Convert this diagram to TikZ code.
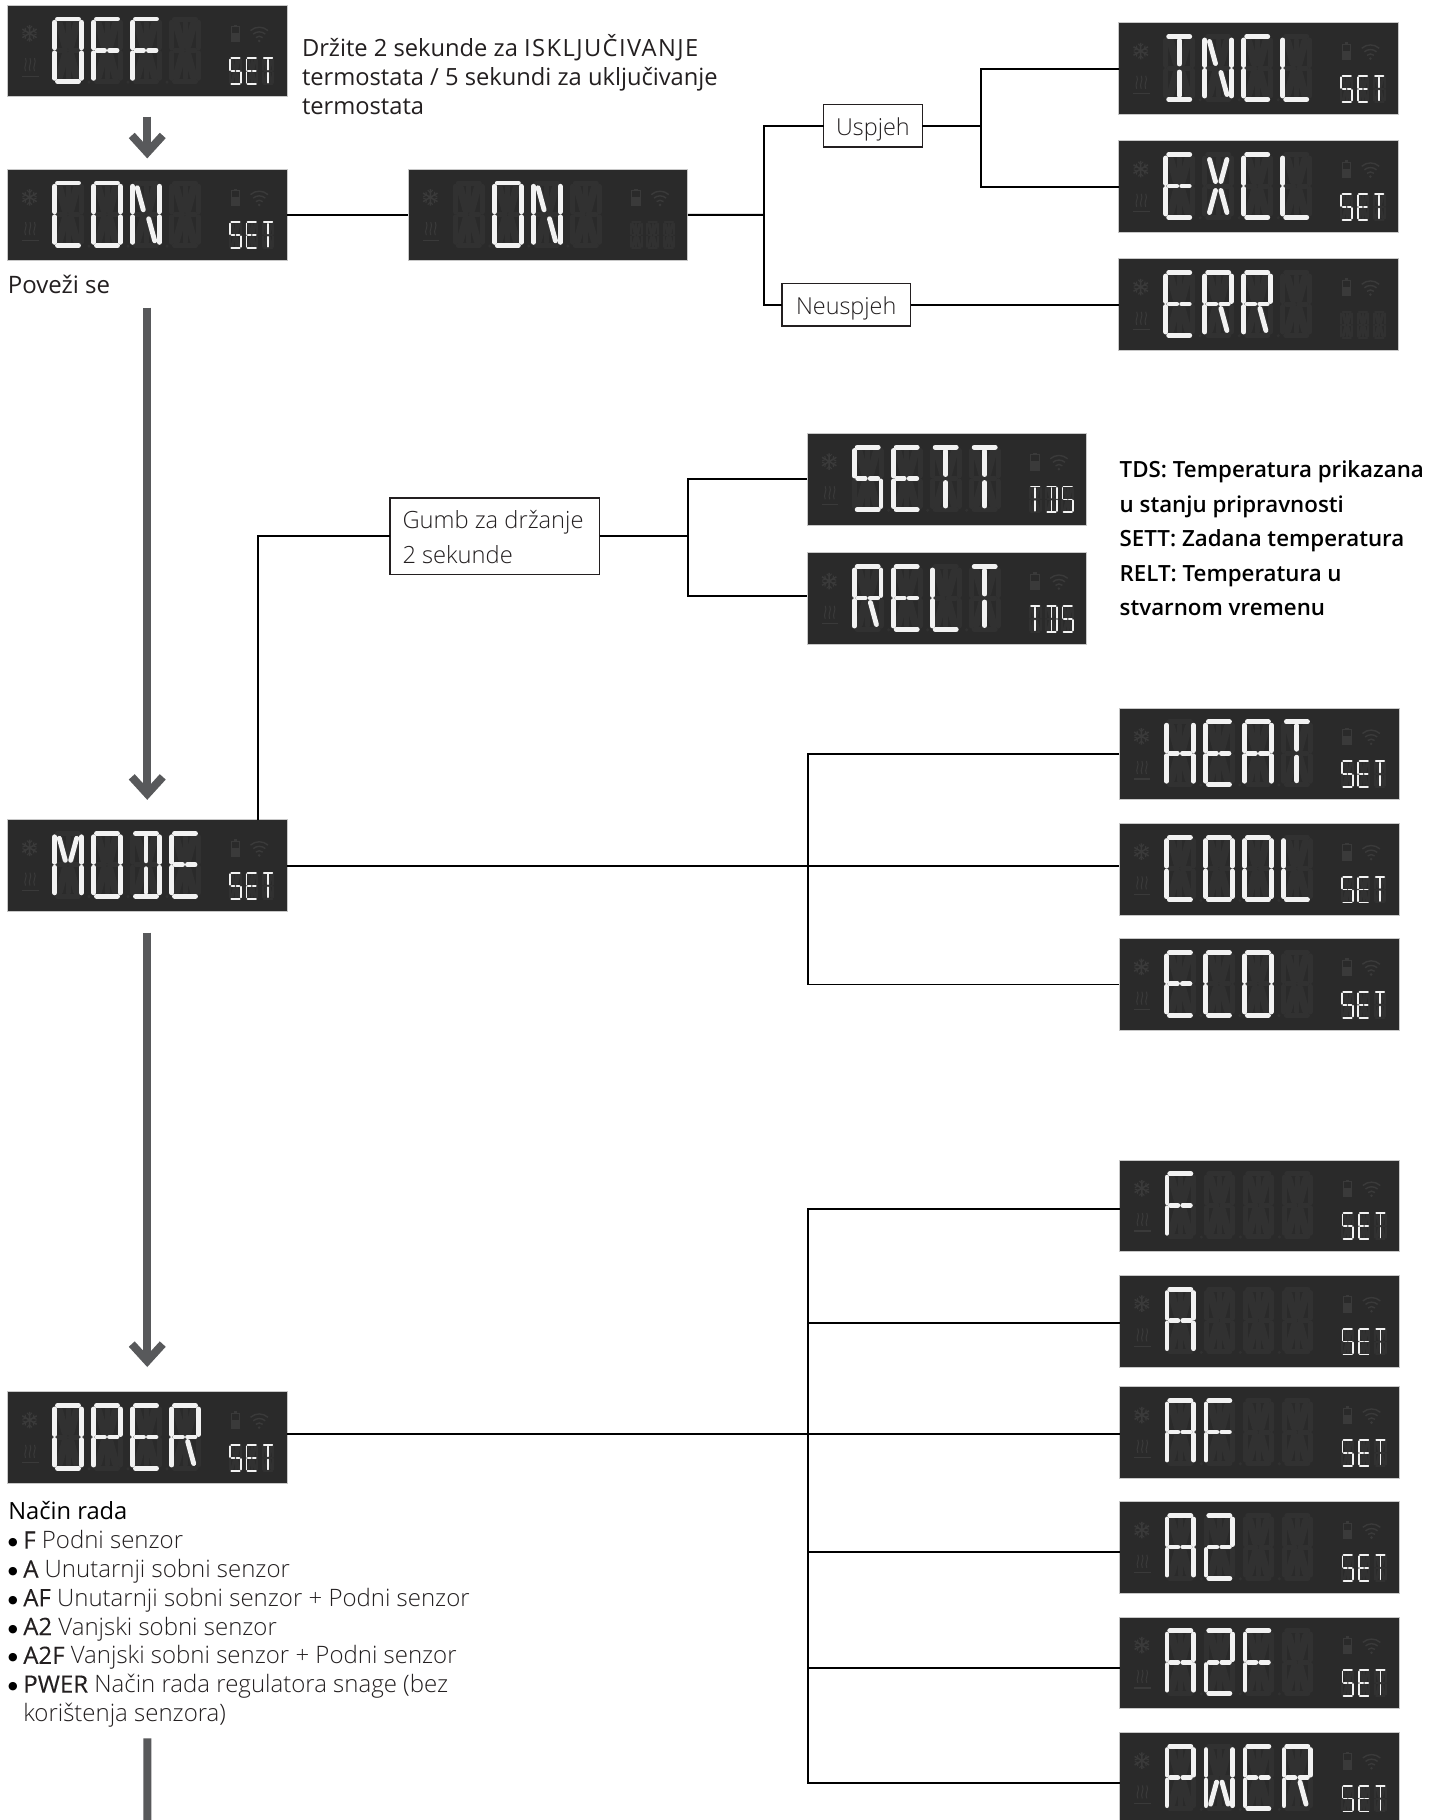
\documentclass[tikz,border=0pt]{standalone}
\usepackage{fontspec}
\usetikzlibrary{arrows.meta}
\setmainfont{Open Sans}
\newfontfamily\ltl{Open Sans Light}
\newfontfamily\ltm{Open Sans Semibold}
\newfontfamily\ltn{Open Sans}[FakeBold=0.2]
\newfontfamily\djv{DejaVu Sans}
\definecolor{lcdbg}{HTML}{2A2A2A}
\definecolor{lcddim}{HTML}{313131}
\definecolor{lcdicon}{HTML}{3A3A3A}
\definecolor{lcdlit}{HTML}{F2F2F2}
\definecolor{lcdedge}{HTML}{C8C8C8}
\definecolor{arrowgrey}{HTML}{58595B}
\definecolor{ink}{HTML}{231F20}
\tikzset{
 lcdpanel/.style={anchor=north west,minimum width=279.5pt,minimum height=91.6pt,inner sep=0pt,outer sep=0pt,fill=lcdbg,draw=lcdedge,line width=.8pt},
 conn/.style={draw=black,line width=1.9pt},
 bigarrow/.style={draw=arrowgrey,line width=8pt,-{Straight Barb[length=17pt,width=31pt,line width=8pt]}},
 labelbox/.style={draw=ink,line width=1.4pt,fill=white,inner sep=0pt,outer sep=0pt,text=ink,font=\ltl\fontsize{23.4}{34.9}\selectfont},
 txt/.style={anchor=base west,inner sep=0pt,outer sep=0pt,align=left},
}
% segments of one 31 x 67 digit
\newcommand\sga[1]{\draw[#1] (5,2.2)--(26,2.2);}
\newcommand\sgb[1]{\draw[#1] (28.8,5.5)--(28.8,31);}
\newcommand\sgc[1]{\draw[#1] (28.8,36)--(28.8,61.5);}
\newcommand\sgd[1]{\draw[#1] (5,64.8)--(26,64.8);}
\newcommand\sge[1]{\draw[#1] (2.2,36)--(2.2,61.5);}
\newcommand\sgf[1]{\draw[#1] (2.2,5.5)--(2.2,31);}
\newcommand\sgg[1]{\draw[#1] (5.5,33.5)--(13,33.5);}
\newcommand\sgp[1]{\draw[#1] (18,33.5)--(25.5,33.5);}
\newcommand\sgi[1]{\draw[#1] (15.5,6)--(15.5,29.5);}
\newcommand\sgl[1]{\draw[#1] (15.5,37.5)--(15.5,61);}
\newcommand\sgh[1]{\draw[#1] (6.8,7)--(12.8,29);}
\newcommand\sgj[1]{\draw[#1] (24.2,7)--(18.2,29);}
\newcommand\sgm[1]{\draw[#1] (12.8,38)--(6.8,60);}
\newcommand\sgk[1]{\draw[#1] (18.2,38)--(24.2,60);}
\def\glO{a,b,c,d,e,f}\def\glF{a,f,e,g,p}\def\glC{a,f,e,d}\def\glN{f,e,b,c,h,k}
\def\glI{a,d,i,l}\def\glL{f,e,d}\def\glE{a,f,e,d,g,p}\def\glX{h,j,m,k}
\def\glR{a,f,b,g,p,e,k}\def\glS{a,f,g,p,c,d}\def\glT{a,i,l}\def\glD{a,b,c,d,i,l}
\def\glM{f,e,b,c,h,j}\def\glH{f,e,b,c,g,p}\def\glA{a,f,b,g,p,e,c}\def\glP{a,f,b,g,p,e}
\expandafter\def\csname gl2\endcsname{a,b,g,p,e,d}
\def\glW{f,e,b,c,m,k}
\expandafter\def\csname gl\endcsname{}
% x y sx sy lwlit lwdim glyph
\newcommand\lcddigit[7]{%
 \begin{scope}[shift={(#1,#2)},xscale=#3,yscale=#4]
  \foreach \s in {a,b,c,d,e,f,g,p,i,l}{\csname sg\s\endcsname{lcddim,line width=#6pt,line cap=round}}
  \foreach \s in {h,j,k,m}{\csname sg\s\endcsname{lcddim,line width=1.5*#6pt,line cap=round}}
  \edef\tmpgl{\csname gl#7\endcsname}%
  \ifx\tmpgl\empty\else
   \foreach \s in \tmpgl {\csname sg\s\endcsname{lcdlit,line width=#5pt,line cap=round}}
  \fi
 \end{scope}}
\newcommand\lcdicons{%
 % snowflake
 \draw[lcdicon,line width=1.5pt] (22,20)--(22,36.5) (14.8,24)--(29.2,32.5) (14.8,32.5)--(29.2,24);
 \draw[lcdicon,line width=1pt] (19.5,21)--(22,23.5)--(24.5,21) (19.5,35.5)--(22,33)--(24.5,35.5)
   (15,27.5)--(18.3,26.2)--(17.6,22.8) (29,27.5)--(25.7,26.2)--(26.4,22.8)
   (15,29)--(18.3,30.3)--(17.6,33.7) (29,29)--(25.7,30.3)--(26.4,33.7);
 % heat
 \draw[lcdicon,line width=1pt] (18,66) .. controls (15.5,61) and (20.5,58) .. (18,53)
   (22.5,66) .. controls (20,61) and (25,58) .. (22.5,53) (27,66) .. controls (24.5,61) and (29.5,58) .. (27,53);
 \draw[lcdicon,line width=1.2pt] (14.3,71)--(31,71);
 % battery
 \draw[lcdicon,line width=1pt] (223.5,21.5) rectangle (232,36.8);
 \fill[lcdicon] (223.5,28) rectangle (232,36.8);
 \fill[lcdicon] (226,19.5) rectangle (229.5,21.5);
 % wifi
 \draw[lcdicon,line width=1.4pt] (243,25.5) .. controls (248,21) and (255.5,21) .. (260.5,25.5)
   (245.7,29) .. controls (249,26) and (254.5,26) .. (257.8,29)
   (248.3,32.5) .. controls (250.5,30.7) and (253,30.7) .. (255.2,32.5);
 \fill[lcdicon] (251.7,35.8) circle[radius=1.4pt];
}
% name glyphs 1-4, small glyphs 1-3
\newcommand\lcdcontent[8]{%
 \begin{scope}[shift={(#1.north west)}]
  \lcdicons
  \lcddigit{45}{11.7}{1}{1}{4.9}{5}{#2}
  \lcddigit{84}{11.7}{1}{1}{4.9}{5}{#3}
  \lcddigit{123}{11.7}{1}{1}{4.9}{5}{#4}
  \lcddigit{162}{11.7}{1}{1}{4.9}{5}{#5}
  \foreach \d in {81.5,120.5,159.5}{\fill[lcddim] (\d,77) circle[radius=1.7pt];}
  \lcddigit{221.8}{52.3}{.4}{.413}{1.8}{2}{#6}
  \lcddigit{238.1}{52.3}{.4}{.413}{1.8}{2}{#7}
  \lcddigit{254.4}{52.3}{.4}{.413}{1.8}{2}{#8}
 \end{scope}}
\newcommand\bulletmark{\makebox[15.2pt][l]{\raisebox{3pt}[0pt][0pt]{\djv\color{black}\fontsize{11}{11}\selectfont ●}}}
\begin{document}
\begin{tikzpicture}[x=1pt,y=-1pt]
\useasboundingbox (0,0) rectangle (1441,1820);
\clip (0,0) rectangle (1441,1820);
\fill[white] (0,0) rectangle (1441,1820);
% panels
\node[lcdpanel] (off) at (7.5,5.1) {};
\node[lcdpanel] (con) at (7.5,169.1) {};
\node[lcdpanel] (on) at (408.3,169.1) {};
\node[lcdpanel] (incl) at (1118.7,22.8) {};
\node[lcdpanel] (excl) at (1118.7,140.8) {};
\node[lcdpanel] (err) at (1118.7,258.8) {};
\node[lcdpanel] (sett) at (807.2,433.3) {};
\node[lcdpanel] (relt) at (807.2,552.8) {};
\node[lcdpanel] (mode) at (7.5,819.6) {};
\node[lcdpanel] (heat) at (1119.4,708) {};
\node[lcdpanel] (cool) at (1119.4,823.4) {};
\node[lcdpanel] (eco) at (1119.4,938.7) {};
\node[lcdpanel] (oper) at (7.5,1391.8) {};
\node[lcdpanel] (pf) at (1119.8,1160) {};
\node[lcdpanel] (pa) at (1119.8,1275.4) {};
\node[lcdpanel] (paf) at (1119.8,1386.8) {};
\node[lcdpanel] (pat) at (1119.8,1501.8) {};
\node[lcdpanel] (patf) at (1119.8,1616.9) {};
\node[lcdpanel] (pwer) at (1119.8,1732.4) {};
\lcdcontent{off}{O}{F}{F}{}{S}{E}{T}
\lcdcontent{con}{C}{O}{N}{}{S}{E}{T}
\lcdcontent{on}{}{O}{N}{}{}{}{}
\lcdcontent{incl}{I}{N}{C}{L}{S}{E}{T}
\lcdcontent{excl}{E}{X}{C}{L}{S}{E}{T}
\lcdcontent{err}{E}{R}{R}{}{}{}{}
\lcdcontent{sett}{S}{E}{T}{T}{T}{D}{S}
\lcdcontent{relt}{R}{E}{L}{T}{T}{D}{S}
\lcdcontent{mode}{M}{O}{D}{E}{S}{E}{T}
\lcdcontent{heat}{H}{E}{A}{T}{S}{E}{T}
\lcdcontent{cool}{C}{O}{O}{L}{S}{E}{T}
\lcdcontent{eco}{E}{C}{O}{}{S}{E}{T}
\lcdcontent{oper}{O}{P}{E}{R}{S}{E}{T}
\lcdcontent{pf}{F}{}{}{}{S}{E}{T}
\lcdcontent{pa}{A}{}{}{}{S}{E}{T}
\lcdcontent{paf}{A}{F}{}{}{S}{E}{T}
\lcdcontent{pat}{A}{2}{}{}{S}{E}{T}
\lcdcontent{patf}{A}{2}{F}{}{S}{E}{T}
\lcdcontent{pwer}{P}{W}{E}{R}{S}{E}{T}
% label boxes
\node[labelbox,minimum width=98.6pt,minimum height=42.6pt] (usp) at (872.9,125.7) {\raisebox{-9.3pt}[0pt][0pt]{Uspjeh}};
\node[labelbox,minimum width=128.6pt,minimum height=42.4pt] (neu) at (846.2,304.6) {\raisebox{-9.4pt}[0pt][0pt]{Neuspjeh}};
\node[labelbox,minimum width=209.6pt,minimum height=76.6pt] (gumb) at (494.8,536.1) {};
\node[txt,font=\ltl\fontsize{23.7}{34.9}\selectfont,text=ink] (gumbtext) at (402.5,563.6) {Gumb za držanje\\2 sekunde};
% junctions
\coordinate (jon) at (764.2,214.9);
\coordinate (jok) at (981,125.7);
\coordinate (jhold) at (687.8,536.1);
\coordinate (jmode) at (807.6,865.7);
\coordinate (joper) at (807.9,1433.7);
\coordinate (mup) at (258.4,819.6);
% connectors
\draw[conn] (con.east) -- (on.west);
\draw[conn] (on.east) -- (jon);
\draw[conn] (usp.west) -| (jon) |- (neu.west);
\draw[conn] (usp.east) -- (jok);
\draw[conn] (incl.west) -| (jok) |- (excl.west);
\draw[conn] (neu.east) -- (err.west);
\draw[conn] (mup) |- (gumb.west);
\draw[conn] (gumb.east) -- (jhold);
\draw[conn] (sett.west) -| (jhold) |- ([yshift=2.5pt]relt.west);
\draw[conn] ([yshift=-.5pt]mode.east) -- ([yshift=-.5pt]mode.east -| cool.west);
\draw[conn] (heat.west) -| (jmode) |- (eco.west);
\draw[conn] ([yshift=4pt]oper.east) -- ([yshift=4pt]oper.east -| paf.west);
\draw[conn] ([yshift=-3pt]pf.west) -| (joper);
\draw[conn] ([yshift=-1.4pt]pa.west) -- ([yshift=-1.4pt]pa.west -| joper);
\draw[conn] ([yshift=-4pt]pat.west) -- ([yshift=-4pt]pat.west -| joper);
\draw[conn] ([yshift=-5pt]patf.west) -- ([yshift=-5pt]patf.west -| joper);
\draw[conn] ([yshift=-4.7pt]pwer.west) -| (joper);
% big arrows
\draw[bigarrow] ([yshift=-20pt]off.south) -- ([yshift=10.7pt]con.north);
\draw[bigarrow] ([yshift=-47pt]con.south) -- ([yshift=19.8pt]mode.north);
\draw[bigarrow] ([yshift=-21.5pt]mode.south) -- ([yshift=24.8pt]oper.north);
\coordinate (bottomend) at (147.3,1830);
\draw[draw=arrowgrey,line width=8pt] ([yshift=-255pt]oper.south) -- (bottomend);
% texts
\node[txt,font=\fontsize{23.7}{29.3}\selectfont,text=ink] (t1) at (302,114.6) {Držite 2 sekunde za {\addfontfeature{LetterSpace=6}ISKLJUČIVANJE}\\termostata / 5 sekundi za uključivanje\\termostata};
\node[txt,font=\fontsize{24}{29.3}\selectfont,text=ink] (t2) at (8,293.5) {Poveži se};
\node[txt,font=\ltm\fontsize{22.3}{34.4}\selectfont,text=black] (t3) at (1119.7,615.5) {TDS: Temperatura prikazana\\u stanju pripravnosti\\SETT: Zadana temperatura\\RELT: Temperatura u\\stvarnom vremenu};
\node[txt,font=\fontsize{23.7}{28.8}\selectfont,text=black] (t4) at (8.3,1519) {Način rada};
\foreach \yy/\bf/\rest in {1548.6/F/Podni senzor,1577.5/A/Unutarnji sobni senzor,1606.3/AF/Unutarnji sobni senzor + Podni senzor,1635.1/A2/Vanjski sobni senzor,1663.9/A2F/Vanjski sobni senzor + Podni senzor,1692.7/PWER/Način rada regulatora snage (bez}{
 \node[txt,font=\ltl\fontsize{24}{28.8}\selectfont,text=ink] at (8.1,\yy) {\bulletmark{\ltn\bf}\ \rest};
}
\node[txt,font=\ltl\fontsize{24}{28.8}\selectfont,text=ink] at (23.3,1721.6) {korištenja senzora)};
\end{tikzpicture}
\end{document}
